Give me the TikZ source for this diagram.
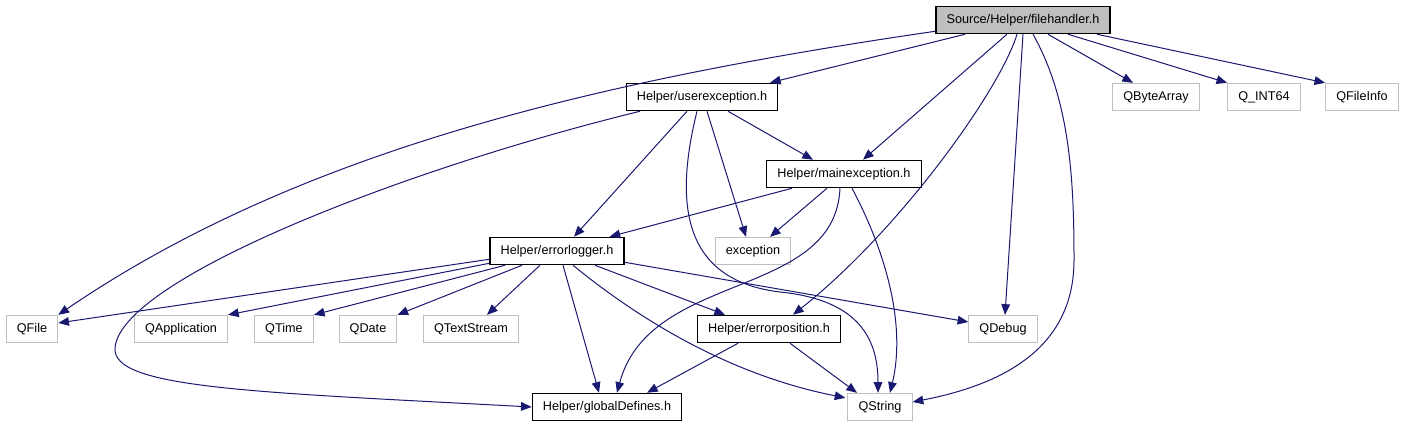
\documentclass[tikz,border=0pt]{standalone}
\usepackage{fontspec}
\setmainfont{Liberation Sans}
\usetikzlibrary{positioning}
\usetikzlibrary{calc}
\usetikzlibrary{arrows.meta}
\definecolor{edgeblue}{RGB}{25,25,112}
\definecolor{extgray}{RGB}{191,191,191}

\begin{document}
\begin{tikzpicture}[x=0.75pt, y=-0.75pt,
    filenode/.style={draw=black, line width=0.9pt, inner xsep=8pt, inner ysep=0pt,
        minimum height=20.5pt, font=\fontsize{9.5}{11}\selectfont},
    extnode/.style={filenode, draw=extgray, line width=0.75pt},
    topnode/.style={filenode, fill=extgray},
    dep/.style={draw=edgeblue, line width=0.75pt, -{Triangle[length=8pt, width=6.5pt]}}]
    \useasboundingbox (0,0) rectangle (1405,427);

    % headers of the project
    \node[topnode] (fh) at (1023,20) {Source/Helper/filehandler.h};
    \node[filenode] (ue) at (702,97) {Helper/userexception.h};
    \node[filenode] (me) at (844,174) {Helper/mainexception.h};
    \node[filenode] (el) at (557,251) {Helper/errorlogger.h};
    \node[filenode] (ep) at (769,329) {Helper/errorposition.h};
    \node[filenode] (gd) at (607,407) {Helper/globalDefines.h};

    % external headers
    \foreach \n/\x/\t in {qba/1156/QByteArray, qint/1264/Q\_INT64, qfi/1362/QFileInfo} {
        \node[extnode] (\n) at (\x,97) {\t};
    }
    \node[extnode] (exc) at (753,251) {exception};
    \foreach \n/\x/\t in {qfile/32/QFile, qapp/181/QApplication, qtime/284/QTime,
                         qdate/368/QDate, qts/471/QTextStream, qdbg/1003/QDebug} {
        \node[extnode] (\n) at (\x,329) {\t};
    }
    \node[extnode] (qstr) at (880,407) {QString};

    % filehandler.h
    \draw[dep] ($(fh.south west)+(0,-3)$) .. controls (600,80) and (300,150) .. (qfile.north east);
    \draw[dep] ($(fh.south)+(-58,0)$) -- ($(ue.north)+(68,0)$);
    \draw[dep] ($(fh.south)+(-16,0)$) -- ($(me.north)+(19,0)$);
    \draw[dep] ($(fh.south)+(-6,0)$) .. controls (1000,90) and (900,230) .. ($(ep.north)+(24,0)$);
    \draw[dep] (fh.south) -- ($(qdbg.north)+(2,0)$);
    \draw[dep] ($(fh.south)+(10,0)$) .. controls (1070,100) and (1074,180) .. (1074,260)
        .. controls (1074,350) and (1000,385) .. ($(qstr.east)+(0,-5)$);
    \draw[dep] ($(fh.south)+(25,0)$) -- ($(qba.north)+(-23,0)$);
    \draw[dep] ($(fh.south)+(45,0)$) -- (qint.north west);
    \draw[dep] ($(fh.south)+(74,0)$) -- (qfi.north west);

    % userexception.h
    \draw[dep] ($(ue.south)+(-62,0)$) .. controls (400,170) and (120,280) .. (115,348)
        .. controls (112,388) and (250,392) .. (gd.west);
    \draw[dep] ($(ue.south)+(-15,0)$) -- ($(el.north)+(17,0)$);
    \draw[dep] ($(ue.south)+(-5,0)$) .. controls (675,200) and (680,280) .. (780,292)
        .. controls (860,300) and (878,340) .. ($(qstr.north)+(-2,0)$);
    \draw[dep] ($(ue.south)+(5,0)$) -- ($(exc.north)+(-7,0)$);
    \draw[dep] ($(ue.south)+(26,0)$) -- ($(me.north)+(-31,0)$);

    % mainexception.h
    \draw[dep] ($(me.south)+(-52,0)$) -- ($(el.north east)+(-15,0)$);
    \draw[dep] ($(me.south)+(-17,0)$) -- ($(exc.north)+(17,0)$);
    \draw[dep] ($(me.south)+(-4,0)$) .. controls (835,300) and (650,270) .. ($(gd.north)+(10,0)$);
    \draw[dep] ($(me.south)+(8,0)$) .. controls (890,260) and (905,330) .. ($(qstr.north)+(10,0)$);

    % errorlogger.h
    \draw[dep] ($(el.south west)+(0,-6)$) -- ($(qfile.east)+(0,-6)$);
    \draw[dep] ($(el.south west)+(0,-2)$) -- (qapp.north east);
    \draw[dep] ($(el.south)+(-52,0)$) -- (qtime.north east);
    \draw[dep] ($(el.south)+(-35,0)$) -- (qdate.north east);
    \draw[dep] ($(el.south)+(-17,0)$) -- ($(qts.north)+(16,0)$);
    \draw[dep] ($(el.south)+(6,0)$) -- ($(gd.north)+(-8,0)$);
    \draw[dep] ($(el.south)+(16,0)$) .. controls (640,320) and (730,375) .. ($(qstr.north west)+(-2,5)$);
    \draw[dep] ($(el.south)+(38,0)$) -- ($(ep.north)+(-44,0)$);
    \draw[dep] ($(el.south east)+(0,-3)$) -- ($(qdbg.west)+(0,-7)$);

    % errorposition.h
    \draw[dep] ($(ep.south)+(-31,0)$) -- ($(gd.north)+(40,0)$);
    \draw[dep] ($(ep.south)+(21,0)$) -- ($(qstr.north)+(-23,0)$);
\end{tikzpicture}
\end{document}
